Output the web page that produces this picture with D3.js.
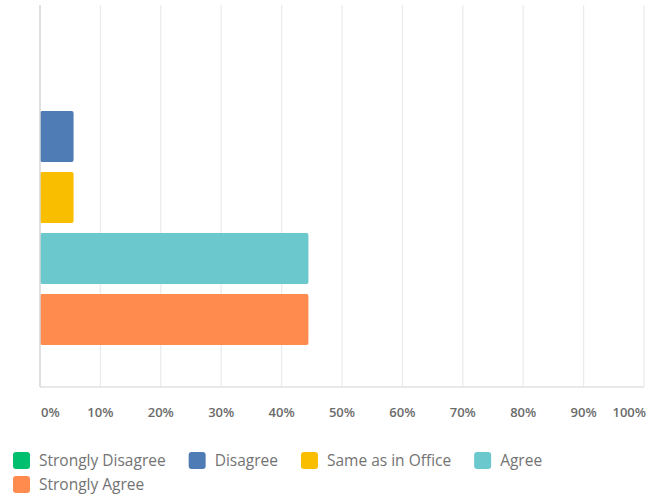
<!DOCTYPE html>
<html>
<head>
<meta charset="utf-8">
<script src="https://cdn.jsdelivr.net/npm/d3@7"></script>
<style>
  body { margin: 0; background: #fff; }
  text { font-family: "Open Sans", Lato, sans-serif; }
</style>
</head>
<body>
<svg id="chart" width="649" height="500"></svg>
<script>
(function() {
  const categories = ["Strongly Disagree", "Disagree", "Same as in Office", "Agree", "Strongly Agree"];
  const percentages = [0, 5.56, 5.56, 44.44, 44.44];
  const colors = ["#00bf6f", "#507cb6", "#f9be00", "#6bc8cd", "#ff8b4f"];
  const tickValues = [0, 10, 20, 30, 40, 50, 60, 70, 80, 90, 100];

  const rows = categories.map((c, i) => ({ name: c, value: percentages[i], color: colors[i] }));

  const svg = d3.select('#chart');

  const x = d3.scaleLinear().domain([0, 100]).range([40, 644]);
  const y = d3.scaleBand()
              .domain(categories)
              .range([8, 387])
              .paddingInner(0.164)
              .paddingOuter(0.689);

  // vertical grid lines
  svg.append('g')
      .selectAll('line')
      .data(tickValues.filter(t => t > 0))
      .enter()
      .append('line')
      .attr('x1', d => x(d))
      .attr('x2', d => x(d))
      .attr('y1', 5)
      .attr('y2', 387)
      .attr('stroke', '#ececec')
      .attr('stroke-width', 1.3);

  // bottom baseline
  svg.append('line')
      .attr('x1', x(0))
      .attr('x2', x(100))
      .attr('y1', 387)
      .attr('y2', 387)
      .attr('stroke', '#e2e2e2')
      .attr('stroke-width', 1.3);

  // bars
  svg.append('g')
      .selectAll('rect')
      .data(rows.filter(d => d.value > 0))
      .enter()
      .append('rect')
      .attr('x', x(0))
      .attr('y', d => y(d.name))
      .attr('width', d => x(d.value) - x(0))
      .attr('height', y.bandwidth())
      .attr('rx', 2)
      .attr('fill', d => d.color);

  // y axis line
  svg.append('line')
      .attr('x1', x(0))
      .attr('x2', x(0))
      .attr('y1', 5)
      .attr('y2', 387)
      .attr('stroke', '#d6d6d6')
      .attr('stroke-width', 1.5);

  // tick labels
  svg.append('g')
      .selectAll('text')
      .data(tickValues)
      .enter()
      .append('text')
      .attr('x', d => d === 0 ? x(d) + 1 : (d === 100 ? x(d) + 2 : x(d)))
      .attr('y', 417)
      .attr('text-anchor', d => d === 0 ? 'start' : (d === 100 ? 'end' : 'middle'))
      .attr('fill', '#6b6b6b')
      .attr('font-size', 13)
      .attr('font-weight', 600)
      .text(d => d + '%');

  // legend
  const legend = svg.append('g');
  let lx = 13, ly = 452;
  rows.forEach(d => {
    const item = legend.append('g');
    item.append('rect')
        .attr('x', 0).attr('y', 0)
        .attr('width', 17).attr('height', 17)
        .attr('rx', 3)
        .attr('fill', d.color);
    const t = item.append('text')
        .attr('x', 26).attr('y', 14)
        .attr('fill', '#737373')
        .attr('font-size', 15.5)
        .text(d.name);
    const w = 26 + t.node().getComputedTextLength();
    if (lx + w > 560) { lx = 13; ly += 24; }
    item.attr('transform', `translate(${lx},${ly})`);
    lx += w + 23;
  });
})();
</script>
</body>
</html>
